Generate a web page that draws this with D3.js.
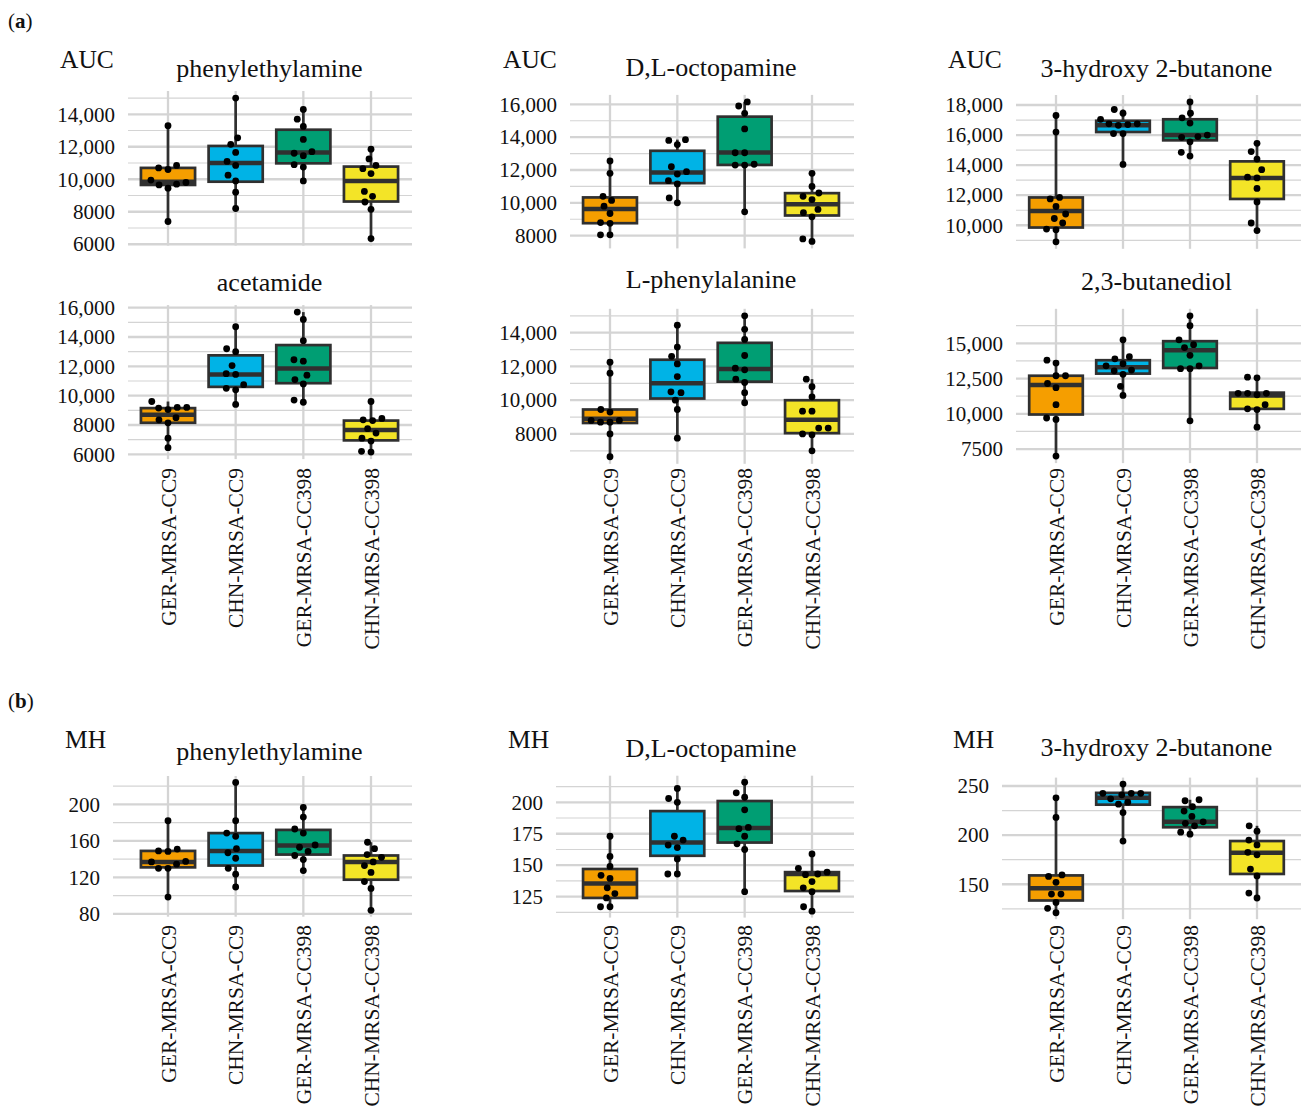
<!DOCTYPE html>
<html><head><meta charset="utf-8">
<script src="https://cdn.jsdelivr.net/npm/d3@7"></script>
<style>
body{margin:0;background:#fff}
svg{display:block}
text{font-family:"Liberation Serif","Times New Roman",serif;fill:#111}
</style>
</head><body>
<svg id="chart" width="1301" height="1108"></svg>
<script>
// ---------- data ----------
const groups = ["GER-MRSA-CC9", "CHN-MRSA-CC9", "GER-MRSA-CC398", "CHN-MRSA-CC398"];
const groupColors = ["#F59E00", "#00B3E6", "#009E73", "#F3E427"];

// (a) AUC – phenylethylamine
const aucPhenylethylaminePoints = [
  [13300, 10850, 10700, 10600, 9950, 9800, 9700, 9650, 9450, 7400],
  [15000, 12550, 12150, 11650, 11100, 10850, 10250, 9900, 9200, 8200],
  [14300, 13700, 13250, 12450, 11700, 11600, 11450, 10900, 10750, 9900],
  [11850, 11250, 10850, 10650, 10350, 9250, 8950, 8600, 8150, 6350]];
const aucPhenylethylamineBox = [[9650, 9850, 10700], [9850, 11000, 12050], [10980, 11650, 13050], [8630, 9900, 10780]];
const aucPhenylethylamineTicks = [6000, 8000, 10000, 12000, 14000];

// (a) AUC – D,L-octopamine
const aucOctopaminePoints = [
  [12550, 11800, 10400, 10150, 9800, 9350, 8800, 8750, 8050, 8050],
  [13850, 13800, 13550, 12200, 11900, 11750, 11350, 11150, 10300, 10000],
  [16150, 15900, 15450, 14500, 13050, 13050, 12350, 12300, 12300, 9450],
  [11800, 11000, 10600, 10400, 10200, 9600, 9400, 9150, 7800, 7650]];
const aucOctopamineBox = [[8760, 9630, 10330], [11200, 11850, 13170], [12310, 13060, 15250], [9230, 9920, 10590]];
const aucOctopamineTicks = [8000, 10000, 12000, 14000, 16000];

// (a) AUC – 3-hydroxy 2-butanone
const aucButanonePoints = [
  [17300, 16200, 11850, 11750, 11250, 10750, 10450, 10150, 9750, 9700, 8900],
  [17700, 17450, 17050, 16750, 16750, 16650, 16700, 16100, 16100, 14050],
  [18200, 17450, 17150, 16800, 16000, 15900, 15850, 15550, 14850, 14600],
  [15450, 14900, 14400, 13700, 13200, 13150, 12450, 11550, 10150, 9650]];
const aucButanoneBox = [[9850, 10950, 11850], [16200, 16650, 16950], [15650, 16000, 17050], [11750, 13150, 14250]];
const aucButanoneTicks = [10000, 12000, 14000, 16000, 18000];

// (a) AUC – acetamide
const aucAcetamidePoints = [
  [9600, 9200, 9150, 9050, 9200, 8500, 8350, 8150, 7100, 6450],
  [14700, 13200, 13000, 12050, 11450, 11500, 10750, 10500, 10400, 9400],
  [15700, 15200, 13750, 12350, 12450, 11400, 11100, 10800, 9550, 9700],
  [9600, 8450, 8350, 8300, 7750, 7450, 7100, 6900, 6150, 6200]];
const aucAcetamideBox = [[8150, 8700, 9150], [10600, 11450, 12750], [10850, 11850, 13450], [6950, 7650, 8300]];
const aucAcetamideTicks = [6000, 8000, 10000, 12000, 14000, 16000];

// (a) AUC – L-phenylalanine
const aucPhenylalaninePoints = [
  [12250, 11600, 9300, 9450, 8800, 8800, 8700, 8700, 8000, 6650],
  [14450, 13150, 12600, 12150, 11400, 10450, 10500, 10000, 9450, 7750],
  [15000, 14200, 13600, 12650, 11800, 11900, 11250, 11050, 10450, 9850],
  [11250, 10800, 10200, 9350, 9350, 8350, 8350, 8000, 7950, 7000]];
const aucPhenylalanineBox = [[8650, 8900, 9450], [10100, 11000, 12400], [11100, 11850, 13400], [8050, 8850, 10000]];
const aucPhenylalanineTicks = [8000, 10000, 12000, 14000];

// (a) AUC – 2,3-butanediol
const aucButanediolPoints = [
  [13600, 13800, 12700, 12700, 12150, 11850, 10650, 9600, 9700, 7000],
  [15250, 13900, 14050, 13400, 13550, 13100, 13050, 12800, 11950, 11300],
  [16950, 16250, 15250, 14700, 14900, 14150, 13400, 13200, 13200, 9500],
  [12550, 12600, 11450, 11450, 11350, 11450, 10650, 10350, 10300, 9050]];
const aucButanediolBox = [[9950, 12050, 12700], [12850, 13300, 13800], [13250, 14500, 15150], [10350, 11300, 11500]];
const aucButanediolTicks = [7500, 10000, 12500, 15000];

// (b) MH – phenylethylamine
const mhPhenylethylaminePoints = [
  [182, 151, 148.5, 149, 134.5, 137, 137.5, 130, 130, 98.5],
  [224, 182, 165, 168.5, 151.5, 147, 141, 130, 123.5, 109.5],
  [196.5, 186, 173, 168.5, 155.5, 153, 148.5, 144, 139.5, 127.5],
  [158.5, 151.5, 142, 145, 137, 133, 125.5, 115.5, 108, 84]];
const mhPhenylethylamineBox = [[131, 137, 149], [133, 149, 168.5], [145, 155, 172], [117.5, 137, 144]];
const mhPhenylethylamineTicks = [80, 120, 160, 200];

// (b) MH – D,L-octopamine
const mhOctopaminePoints = [
  [173, 157, 149, 139.5, 142, 132, 127.5, 124, 117, 117],
  [211, 203, 200, 173, 170, 164, 166, 155, 143, 143],
  [216, 207.5, 204, 194, 179, 180, 173, 167, 162.5, 129],
  [159, 147.5, 144.5, 142.5, 143, 137, 132, 129, 117, 113.5]];
const mhOctopamineBox = [[124, 135.5, 147], [157.5, 168, 193], [168, 179.5, 201], [129.5, 143, 144.5]];
const mhOctopamineTicks = [125, 150, 175, 200];

// (b) MH – 3-hydroxy 2-butanone
const mhButanonePoints = [
  [238, 218, 159.5, 158, 152, 140, 140, 131.5, 125.5, 121],
  [252, 242.5, 242.5, 241, 242.5, 237, 233.5, 231.5, 223, 194],
  [236, 235, 229, 224.5, 219, 213.5, 212, 209.5, 203, 201],
  [209.5, 204, 195, 190, 180, 182.5, 165.5, 158.5, 141, 136]];
const mhButanoneBox = [[133.5, 146, 159], [231, 238, 243], [208, 213.5, 228.5], [160.5, 182, 194]];
const mhButanoneTicks = [150, 200, 250];

// ---------- layout ----------
const cols = [
  {c0: 168, c3: 371, right: 412, left: [128, 128, 113], axisX: [60, 60, 65]},
  {c0: 610, c3: 812, right: 854, left: [570, 570, 556], axisX: [503, 503, 508]},
  {c0: 1056, c3: 1257, right: 1301, left: [1016, 1016, 1002], axisX: [948, 948, 953]}
];

const panels = [
  {row: 0, col: 0, title: "phenylethylamine", measure: "AUC", pts: aucPhenylethylaminePoints, box: aucPhenylethylamineBox, ticks: aucPhenylethylamineTicks, top: 91, bottom: 245.6, titleY: 76.7},
  {row: 0, col: 1, title: "D,L-octopamine", measure: "AUC", pts: aucOctopaminePoints, box: aucOctopamineBox, ticks: aucOctopamineTicks, top: 94.9, bottom: 248.4, titleY: 75.7},
  {row: 0, col: 2, title: "3-hydroxy 2-butanone", measure: "AUC", pts: aucButanonePoints, box: aucButanoneBox, ticks: aucButanoneTicks, top: 95, bottom: 248.8, titleY: 76.7},
  {row: 1, col: 0, title: "acetamide", measure: null, pts: aucAcetamidePoints, box: aucAcetamideBox, ticks: aucAcetamideTicks, top: 305.1, bottom: 459.1, titleY: 290.7, xlab: 468},
  {row: 1, col: 1, title: "L-phenylalanine", measure: null, pts: aucPhenylalaninePoints, box: aucPhenylalanineBox, ticks: aucPhenylalanineTicks, top: 308.8, bottom: 463.8, titleY: 288.3, xlab: 468},
  {row: 1, col: 2, title: "2,3-butanediol", measure: null, pts: aucButanediolPoints, box: aucButanediolBox, ticks: aucButanediolTicks, top: 308.8, bottom: 463.1, titleY: 290, xlab: 468},
  {row: 2, col: 0, title: "phenylethylamine", measure: "MH", pts: mhPhenylethylaminePoints, box: mhPhenylethylamineBox, ticks: mhPhenylethylamineTicks, top: 776, bottom: 916.7, titleY: 759.5, xlab: 925},
  {row: 2, col: 1, title: "D,L-octopamine", measure: "MH", pts: mhOctopaminePoints, box: mhOctopamineBox, ticks: mhOctopamineTicks, top: 775.7, bottom: 917.6, titleY: 756.7, xlab: 925},
  {row: 2, col: 2, title: "3-hydroxy 2-butanone", measure: "MH", pts: mhButanonePoints, box: mhButanoneBox, ticks: mhButanoneTicks, top: 777.6, bottom: 919.2, titleY: 755.7, xlab: 925}
];
const measureY = [67.7, null, 748.3];

const svg = d3.select("#chart");
const gridColor = "#d4d4d4";
const ink = "#303030";
const fmtTick = v => v >= 10000 ? d3.format(",")(v) : d3.format("")(v);

// panel letters
function panelLetter(letter, y) {
  const t = svg.append("text").attr("x", 8).attr("y", y).style("font-size", "21px");
  t.append("tspan").text("(");
  t.append("tspan").attr("font-weight", "bold").text(letter);
  t.append("tspan").text(")");
}
panelLetter("a", 28);
panelLetter("b", 708);

function swarm(values, y, D) {
  const order = values.map((v, i) => ({v, i, y: y(v)})).sort((a, b) => a.v - b.v);
  const placed = [];
  order.forEach(p => {
    const forb = [];
    placed.forEach(q => {
      const dy = Math.abs(q.y - p.y);
      if (dy < D) { const w = Math.sqrt(D * D - dy * dy); forb.push([q.x - w, q.x + w]); }
    });
    const cands = [0];
    forb.forEach(f => cands.push(f[0], f[1]));
    cands.sort((a, b) => Math.abs(a) - Math.abs(b) || a - b);
    const ok = c => forb.every(f => c <= f[0] + 1e-6 || c >= f[1] - 1e-6);
    p.x = cands.find(ok);
    placed.push(p);
  });
  return order;
}

panels.forEach(p => {
  const col = cols[p.col];
  const left = col.left[p.row], right = col.right;
  const x = d3.scalePoint().domain(groups).range([col.c0, col.c3]);
  const step = x.step();
  const all = p.pts.flat();
  const ext = d3.extent(all);
  const pad = (ext[1] - ext[0]) * 0.05;
  const y = d3.scaleLinear().domain([ext[0] - pad, ext[1] + pad]).range([p.bottom, p.top]);
  const g = svg.append("g");

  // minor grid
  const tk = p.ticks, dt = tk[1] - tk[0];
  const minors = d3.range(tk[0] - dt / 2, tk[tk.length - 1] + dt, dt).filter(v => v >= y.domain()[0] && v <= y.domain()[1]);
  g.selectAll(".minor").data(minors).join("line")
    .attr("x1", left).attr("x2", right).attr("y1", d => y(d)).attr("y2", d => y(d))
    .attr("stroke", gridColor).attr("stroke-width", 1.2);
  // major grid
  g.selectAll(".major").data(tk).join("line")
    .attr("x1", left).attr("x2", right).attr("y1", d => y(d)).attr("y2", d => y(d))
    .attr("stroke", gridColor).attr("stroke-width", 2.3);
  // vertical grid
  g.selectAll(".vgrid").data(groups).join("line")
    .attr("x1", d => x(d)).attr("x2", d => x(d)).attr("y1", p.top).attr("y2", p.bottom)
    .attr("stroke", gridColor).attr("stroke-width", 2.3);

  // y axis (labels only)
  const yAxis = d3.axisLeft(y).tickValues(tk).tickFormat(fmtTick).tickSize(0).tickPadding(13);
  const ya = g.append("g").attr("transform", `translate(${left},0)`).call(yAxis);
  ya.select(".domain").remove();
  ya.selectAll("text").style("font-size", "21px").style("font-family", '"Liberation Serif",serif').attr("fill", "#111");

  // boxes
  const bw = step * 0.8;
  groups.forEach((gname, i) => {
    const vals = p.pts[i];
    const [q1, med, q3] = p.box[i];
    const mn = d3.min(vals), mx = d3.max(vals);
    const cx = x(gname);
    g.append("line").attr("x1", cx).attr("x2", cx).attr("y1", y(mx)).attr("y2", y(mn))
      .attr("stroke", ink).attr("stroke-width", 2.7);
    g.append("rect").attr("x", cx - bw / 2).attr("width", bw)
      .attr("y", y(q3)).attr("height", y(q1) - y(q3))
      .attr("fill", groupColors[i]).attr("stroke", ink).attr("stroke-width", 2.7);
    g.append("line").attr("x1", cx - bw / 2).attr("x2", cx + bw / 2).attr("y1", y(med)).attr("y2", y(med))
      .attr("stroke", ink).attr("stroke-width", 4.5);
    const sw = swarm(vals, y, 9.5);
    g.selectAll(null).data(sw).join("circle")
      .attr("cx", d => cx + d.x).attr("cy", d => d.y).attr("r", 3.4).attr("fill", "#000");
  });

  // title
  svg.append("text").attr("x", (col.c0 + col.c3) / 2).attr("y", p.titleY)
    .attr("text-anchor", "middle").style("font-size", "26px").text(p.title);
  if (p.measure) {
    svg.append("text").attr("x", col.axisX[p.row]).attr("y", measureY[p.row])
      .style("font-size", "25.5px").text(p.measure);
  }
  // x labels
  if (p.xlab) {
    groups.forEach(gname => {
      svg.append("text")
        .attr("transform", `translate(${x(gname)},${p.xlab}) rotate(-90)`)
        .attr("text-anchor", "end").attr("dy", "0.35em")
        .style("font-size", "21.5px").text(gname);
    });
  }
});
</script>
</body></html>
